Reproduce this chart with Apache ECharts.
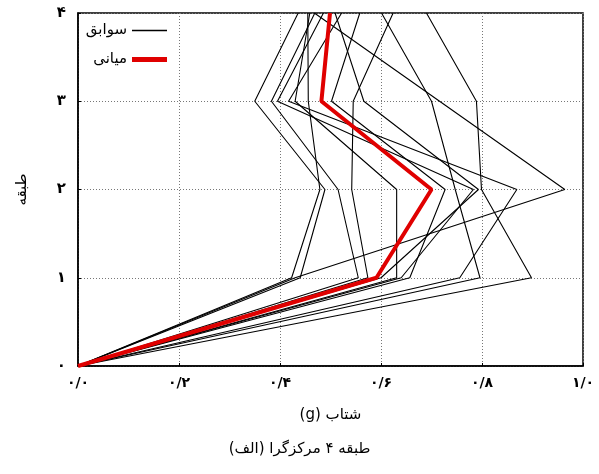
<!DOCTYPE html>
<html><head><meta charset="utf-8">
<script src="https://cdn.jsdelivr.net/npm/echarts@6/dist/echarts.min.js"></script>
<style>html,body{margin:0;padding:0;background:#fff}#c{width:599px;height:474px}</style>
</head><body><div id="c"></div>
<script>
const floors = [0, 1, 2, 3, 4];
const xTickLabels = ['۰/۰', '۰/۲', '۰/۴', '۰/۶', '۰/۸', '۱/۰'];
const yTickLabels = ['۰', '۱', '۲', '۳', '۴'];
const recordName = 'سوابق';
const medianName = 'میانی';
const xTitle = 'شتاب (g)';
const yTitle = 'طبقه';
const captionWords = ['(الف)', 'مرکزگرا', '۴', 'طبقه'];
const recA = [0, 0.898, 0.799, 0.789, 0.690];
const recB = [0, 0.796, 0.747, 0.700, 0.601];
const recC = [0, 0.574, 0.542, 0.545, 0.624];
const recD = [0, 0.600, 0.793, 0.566, 0.509];
const recE = [0, 0.657, 0.727, 0.502, 0.558];
const recF = [0, 0.440, 0.489, 0.350, 0.436];
const recG = [0, 0.423, 0.479, 0.456, 0.455];
const recH = [0, 0.555, 0.515, 0.383, 0.469];
const recI = [0, 0.640, 0.783, 0.395, 0.486];
const recJ = [0, 0.756, 0.869, 0.417, 0.522];
const recK = [0, 0.430, 0.964, 0.716, 0.468];
const recL = [0, 0.631, 0.631, 0.430, 0.459];
const median = [0, 0.591, 0.700, 0.482, 0.499];
const records = [recA, recB, recC, recD, recE, recF, recG, recH, recI, recJ, recK, recL];

const FONT = 'DejaVu Sans';
const RLE = '\u202B', PDF = '\u202C', LRM = '\u200E';
const toPairs = arr => arr.map((x, i) => [x, floors[i]]);

const series = records.map(r => ({
  name: recordName, type: 'line', data: toPairs(r), symbol: 'none',
  lineStyle: { color: '#000', width: 1.1 }, itemStyle: { color: '#000' }, z: 2
}));
series.push({
  name: medianName, type: 'line', data: toPairs(median), symbol: 'none',
  lineStyle: { color: '#e00000', width: 4 }, itemStyle: { color: '#e00000' }, z: 5
});

const legendText = { fontFamily: FONT, fontSize: 15, color: '#000' };
const chart = echarts.init(document.getElementById('c'), null, { renderer: 'canvas' });
chart.setOption({
  animation: false,
  backgroundColor: '#fff',
  grid: { left: 78, right: 16, top: 13, bottom: 108, show: true, borderColor: '#000', borderWidth: 1.5 },
  legend: [
    { right: 427, top: 18, align: 'right', itemWidth: 35, itemHeight: 1.5, icon: 'rect',
      data: [recordName], textStyle: legendText },
    { right: 427, top: 47, align: 'right', itemWidth: 35, itemHeight: 5, icon: 'rect',
      data: [medianName], textStyle: legendText }
  ],
  xAxis: {
    type: 'value', min: 0, max: 1, interval: 0.2,
    name: RLE + xTitle + PDF, nameLocation: 'middle', nameGap: 42,
    nameTextStyle: { fontFamily: FONT, fontSize: 15, color: '#000' },
    axisLine: { show: true, lineStyle: { color: '#000', width: 1.5 } },
    axisTick: { show: true, inside: true, length: 3, lineStyle: { color: '#000' } },
    axisLabel: { fontFamily: FONT, fontSize: 14, fontWeight: 'bold', color: '#000', margin: 10,
      formatter: v => xTickLabels[Math.round(v / 0.2)] },
    splitLine: { show: true, lineStyle: { color: '#777', type: [1, 2], width: 1 } }
  },
  yAxis: {
    type: 'value', min: 0, max: 4, interval: 1,
    name: yTitle, nameLocation: 'middle', nameGap: 48, nameRotate: 90,
    nameTextStyle: { fontFamily: FONT, fontSize: 15, color: '#000' },
    axisLine: { show: true, lineStyle: { color: '#000', width: 1.5 } },
    axisTick: { show: true, inside: true, length: 3, lineStyle: { color: '#000' } },
    axisLabel: { fontFamily: FONT, fontSize: 15, fontWeight: 'bold', color: '#000', margin: 12,
      formatter: v => yTickLabels[Math.round(v)] },
    splitLine: { show: true, lineStyle: { color: '#777', type: [1, 2], width: 1 } }
  },
  graphic: [{
    type: 'text', left: 'center', top: 442,
    style: { text: captionWords.join(LRM + ' '), fontFamily: FONT, fontSize: 15, fill: '#000' }
  }],
  series: series
});
</script></body></html>
